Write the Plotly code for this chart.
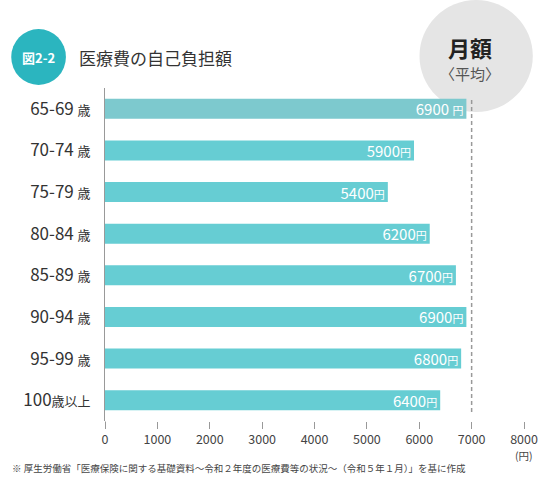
import plotly.graph_objects as go

# data
ages = ["65-69", "70-74", "75-79", "80-84", "85-89", "90-94", "95-99", "100"]
age_suffix = ["歳", "歳", "歳", "歳", "歳", "歳", "歳", "歳以上"]
costs = [6900, 5900, 5400, 6200, 6700, 6900, 6800, 6400]
bar_colors = ["#7dc9ce"] + ["#66cdd3"] * 7
x_ticks = [0, 1000, 2000, 3000, 4000, 5000, 6000, 7000, 8000]
avg_line = 7000

FONT = "Noto Sans CJK JP"

# plot area in pixels: x 105..534, y 88..421
L, R, T, B = 105, 534, 88, 421


def px(x):
    return (x - L) / (R - L)


def py(y):
    return (B - y) / (B - T)


ylabels = []
for a, s in zip(ages, age_suffix):
    sep = " " if s == "歳" else ""
    ylabels.append(f"{a}{sep}<span style='font-size:13px'>{s}</span>")

bar_text = []
for i, v in enumerate(costs):
    sep = " " if i == 0 else ""
    bar_text.append(f"{v}{sep}<span style='font-size:11px'>円</span>")

fig = go.Figure(
    go.Bar(
        x=costs,
        y=ylabels,
        orientation="h",
        marker=dict(color=bar_colors, line=dict(width=0)),
        text=bar_text,
        textposition="inside",
        insidetextanchor="end",
        textangle=0,
        constraintext="none",
        textfont=dict(color="white", size=15, family=FONT),
        hoverinfo="skip",
    )
)

fig.update_layout(
    width=550,
    height=480,
    margin=dict(l=L, r=550 - R, t=T, b=480 - B),
    paper_bgcolor="white",
    plot_bgcolor="rgba(0,0,0,0)",
    font=dict(family=FONT, color="#333333"),
    bargap=0.52,
    showlegend=False,
)

fig.update_xaxes(
    range=[0, 8000],
    tickvals=x_ticks,
    ticktext=[str(t) for t in x_ticks],
    showgrid=False,
    zeroline=False,
    showline=False,
    ticks="outside",
    ticklen=7,
    tickwidth=1,
    tickcolor="#999999",
    tickfont=dict(size=12.5, color="#444444"),
)

fig.update_yaxes(
    categoryorder="array",
    categoryarray=ylabels,
    autorange="reversed",
    showgrid=False,
    zeroline=False,
    showline=True,
    linecolor="#999999",
    linewidth=1,
    ticks="",
    ticklabelstandoff=10,
    tickfont=dict(size=17, color="#333333"),
)

shapes = [
    # gray blob behind "月額"
    dict(type="circle", xref="paper", yref="paper", layer="below",
         x0=px(427), x1=px(543), y0=py(112), y1=py(0),
         fillcolor="#e5e5e5", line=dict(width=0)),
    # teal badge
    dict(type="circle", xref="paper", yref="paper",
         x0=px(9), x1=px(65), y0=py(85), y1=py(29),
         fillcolor="#2bb5bf", line=dict(width=0)),
    # average dashed line
    dict(type="line", xref="x", yref="paper",
         x0=avg_line, x1=avg_line, y0=py(412), y1=py(100),
         line=dict(color="#999999", width=1.5, dash="4px,3px")),
    # extend y axis line down to ticks
    dict(type="line", xref="x", yref="paper",
         x0=0, x1=0, y0=py(428), y1=0,
         line=dict(color="#999999", width=1)),
]
fig.update_layout(shapes=shapes)

annotations = [
    dict(text="<b>図2-2</b>", x=px(37), y=py(57), font=dict(size=13, color="white"),
         xanchor="center"),
    dict(text="医療費の自己負担額", x=px(76), y=py(57), font=dict(size=17, color="#333333"),
         xanchor="left"),
    dict(text="<b>月額</b>", x=px(479), y=py(47), font=dict(size=22, color="#222222"),
         xanchor="center"),
    dict(text="〈平均〉", x=px(479), y=py(73), font=dict(size=15, color="#555555"),
         xanchor="center"),
    dict(text="(円)", x=px(534), y=py(455), font=dict(size=10.5, color="#444444"),
         xanchor="center"),
    dict(text="※ 厚生労働省「医療保険に関する基礎資料～令和２年度の医療費等の状況～（令和５年１月）」を基に作成",
         x=px(8), y=py(468), font=dict(size=9.5, color="#444444"), xanchor="left"),
]
for a in annotations:
    a.update(xref="paper", yref="paper", yanchor="middle", showarrow=False)
fig.update_layout(annotations=annotations)

# page body has an 8px default margin; drop it so pixels line up
fig.write_html("out.html", config={"displayModeBar": False},
               post_script="document.body.style.margin='0';")
